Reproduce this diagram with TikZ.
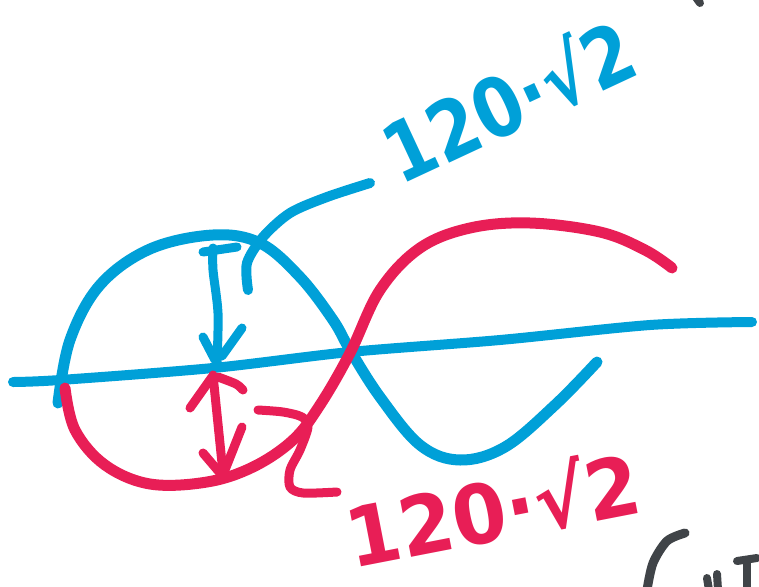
\documentclass[tikz,border=0pt]{standalone}
\usepackage{fontspec}
\newfontfamily\labfont{DejaVu Sans}
\definecolor{penblue}{RGB}{0,160,216}
\definecolor{penred}{RGB}{232,30,86}
\definecolor{pengray}{RGB}{64,68,72}
\begin{document}
\begin{tikzpicture}[x=1pt,y=-1pt,
  pen/.style={line width=#1,line cap=round,line join=round},
  pen/.default=10pt,
  lab/.style={font=\labfont\bfseries\fontsize{82}{82}\selectfont,inner sep=0pt,anchor=base west,transform shape}]
\useasboundingbox (0,0) rectangle (759,586);
% axis
\draw[pen=10pt,penblue] plot[smooth] coordinates {(13,382) (60,380) (213,368) (350,352) (500,340) (650,325) (752,322)};
% blue sine
\draw[pen=11pt,penblue] plot[smooth,tension=0.6] coordinates {(58,403) (70,340) (100,285) (150,249) (213,235) (260,243) (300,277) (333,320) (350,350) (380,397) (420,445) (460,460) (505,447) (555,405) (597,362)};
% red sine
\draw[pen=11pt,penred] plot[smooth,tension=0.6] coordinates {(65,388) (75,430) (105,465) (150,484) (207,482) (253,467) (293,440) (320,405) (350,353) (380,290) (420,248) (470,228) (530,223) (600,232) (645,250) (672,268)};
% blue arrow
\draw[pen=9pt,penblue] plot[smooth] coordinates {(213,248) (213,270) (218,313) (217,362)};
\draw[pen=9pt,penblue] (203,252) -- (237,247);
\draw[pen=9pt,penblue] (203,337) -- (215,360);
\draw[pen=9pt,penblue] (242,328) -- (222,356);
% blue leader
\draw[pen=10pt,penblue] plot[smooth] coordinates {(248,290) (247,263) (263,237) (290,213) (327,197) (370,183)};
% red arrow
\draw[pen=9pt,penred] (213,375) -- (223,473);
\draw[pen=9pt,penred] (190,408) -- (212,377);
\draw[pen=9pt,penred] plot[smooth] coordinates {(218,377) (236,384) (243,390)};
\draw[pen=9pt,penred] (203,453) -- (220,473);
\draw[pen=9pt,penred] (242,427) -- (225,470);
% red leader
\draw[pen=9pt,penred] plot[smooth] coordinates {(258,410) (283,412) (302,417) (308,427) (300,450) (290,470) (290,487) (303,493) (337,492)};
% labels
\node[lab,text=penblue,rotate=25,xscale=0.85] (toplab) at (400,186) {120·√2};
\node[lab,text=penred,rotate=11,xscale=0.95] (botlab) at (352,569) {120·√2};
% gray fragments
\draw[pen=9pt,pengray] plot[smooth] coordinates {(685,533) (667,541) (653,563) (647,590)};
\draw[pen=8pt,pengray] (707,578) -- (709,590);
\draw[pen=8pt,pengray] (717,574) -- (718,590);
\draw[pen=8pt,pengray] (737,561) -- (757,558);
\draw[pen=8pt,pengray] (747,561) -- (747,590);
\draw[pen=8pt,pengray] (695,-4) -- (700,3);
\end{tikzpicture}
\end{document}
